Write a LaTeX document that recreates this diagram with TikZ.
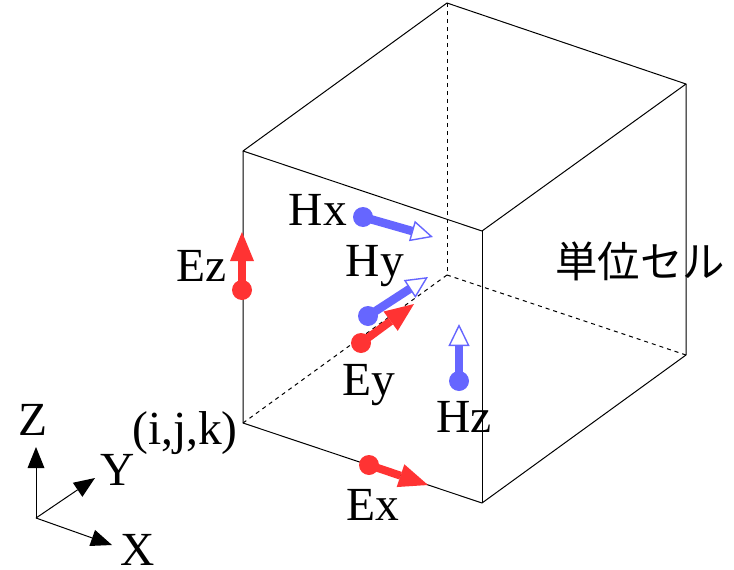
\documentclass[tikz,border=0pt]{standalone}
\usepackage{fontspec}
\setmainfont{Liberation Serif}
\newfontfamily\cjkfont{Noto Sans CJK JP}
\usetikzlibrary{arrows.meta}
\tikzset{
  edge/.style={line width=1pt,black},
  hidden/.style={line width=1pt,black,dash pattern=on 4pt off 4pt},
  lbl/.style={font=\fontsize{47.5}{47.5}\selectfont,inner sep=0pt,text=black},
  edot/.style={circle,fill=eRed,draw=none,inner sep=0pt,minimum size=20pt},
  hdot/.style={circle,fill=hBlue,draw=none,inner sep=0pt,minimum size=20pt},
  earrow/.style={draw=eRed,line width=8pt,-{Triangle[length=29pt,width=24pt,fill=eRed,line width=0pt]}},
  harrow/.style={draw=hBlue,line width=8.5pt,-{Triangle[open,length=22pt,width=21pt,fill=white,line width=1.4pt,color=hBlue]}},
  axisarrow/.style={line width=1pt,black,-{Triangle[length=21pt,width=17pt,line width=0pt]}}
}
\definecolor{eRed}{HTML}{FF3333}
\definecolor{hBlue}{HTML}{6666FF}
\begin{document}
\begin{tikzpicture}[x=1pt,y=-1pt]
\useasboundingbox (0,0) rectangle (734,570);
% cube vertices
\coordinate (tb) at (447,3);
\coordinate (tl) at (243,151);
\coordinate (tf) at (482,231);
\coordinate (tr) at (686,84);
\coordinate (bl) at (243,423);
\coordinate (bf) at (482,503);
\coordinate (br) at (686,355);
\coordinate (bb) at (447,275);
% hidden edges
\draw[hidden] (tb) -- (bb);
\draw[hidden] (bb) -- (bl);
\draw[hidden] (bb) -- (br);
% visible edges
\draw[edge,line join=round] (tl) -- (tb) -- (tr) -- (tf) -- cycle;
\draw[edge,line join=round] (tl) -- (bl) -- (bf) -- (br) -- (tr);
\draw[edge] (tf) -- (bf);
% H components
\node[hdot] (hx) at (363,217) {};
\coordinate (hxt) at (433,237);
\draw[harrow] (hx.center) -- (hxt);
\node[hdot] (hy) at (368,316) {};
\coordinate (hyt) at (428,277);
\draw[harrow] (hy.center) -- (hyt);
\node[hdot] (hz) at (459,381) {};
\coordinate (hzt) at (459,324);
\draw[harrow] (hz.center) -- (hzt);
% E components
\node[edot] (ex) at (369,465) {};
\coordinate (ext) at (428,485);
\draw[earrow] (ex.center) -- (ext);
\node[edot] (ey) at (361,343) {};
\coordinate (eyt) at (414,304);
\draw[earrow] (ey.center) -- (eyt);
\node[edot] (ez) at (242,290) {};
\coordinate (ezt) at (242,232);
\draw[earrow] (ez.center) -- (ezt);
% labels
\node[lbl] (lhx) at (318,210) {Hx};
\node[lbl] (lhy) at (375,266) {Hy};
\node[lbl] (lhz) at (464,417) {Hz};
\node[lbl] (lex) at (373,505) {Ex};
\node[lbl] (ley) at (369,385) {Ey};
\node[lbl] (lez) at (202,266) {Ez};
\node[lbl] (lijk) at (185,433) {(i,j,k)};
\node[font=\cjkfont\fontsize{42.4}{42.4}\selectfont,inner sep=0pt] (cell) at (640,261) {単位セル};
% axes
\coordinate (o) at (36,518);
\coordinate (zt) at (36,447);
\coordinate (yt) at (95,478);
\coordinate (xt) at (112,545);
\draw[axisarrow] (o) -- (zt);
\draw[axisarrow] (o) -- (yt);
\draw[axisarrow] (o) -- (xt);
\node[lbl] (lz) at (33,420) {Z};
\node[lbl] (ly) at (118,470) {Y};
\node[lbl] (lx) at (138,550) {X};
\end{tikzpicture}
\end{document}
